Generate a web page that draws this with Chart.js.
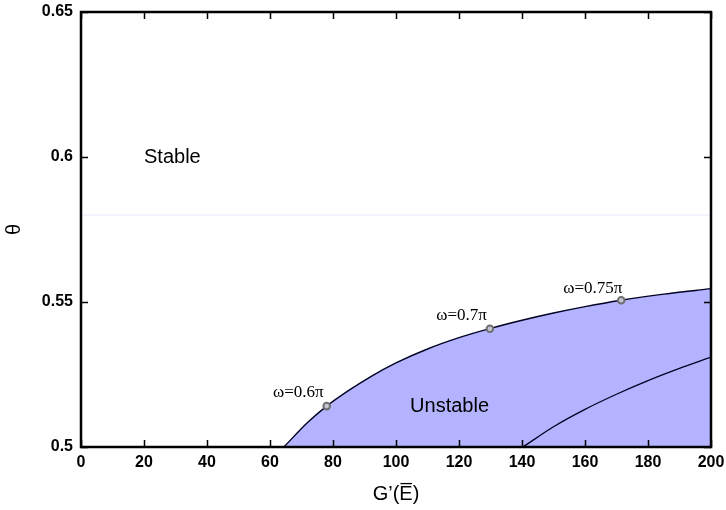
<!DOCTYPE html>
<html>
<head>
<meta charset="utf-8">
<script src="https://cdn.jsdelivr.net/npm/chart.js@4"></script>
<style>
  html, body { margin: 0; padding: 0; background: #fff; }
  #wrap { width: 726px; height: 510px; }
</style>
</head>
<body>
<div id="wrap"><canvas id="stability"></canvas></div>
<script>
// boundary of the unstable region (upper curve, filled below)
const boundaryX = [64.4, 72, 78, 85, 92, 100, 110, 120, 130, 140, 150, 160, 171.5, 185, 200];
const boundaryY = [0.5, 0.5085, 0.5141, 0.5195, 0.5243, 0.529, 0.5338, 0.5377, 0.5409, 0.5437, 0.5462, 0.5484, 0.5506, 0.5527, 0.5546];

// second (lower) curve
const innerX = [140.3, 150, 160, 170, 180, 190, 200];
const innerY = [0.5, 0.507, 0.513, 0.5182, 0.5229, 0.5271, 0.531];

// marked frequencies on the boundary
const markX = [78, 129.8, 171.5];
const markY = [0.5141, 0.5408, 0.5506];
const markLabels = ['ω=0.6π', 'ω=0.7π', 'ω=0.75π'];

// faint reference line
const refY = 0.58;

const xTicks = [0, 20, 40, 60, 80, 100, 120, 140, 160, 180, 200];
const yTicks = [0.5, 0.55, 0.6, 0.65];
const yTickLabels = ['0.5', '0.55', '0.6', '0.65'];

function pts(xs, ys) {
  return xs.map(function(x, i) { return { x: x, y: ys[i] }; });
}

// box, inward ticks and text labels
const decorations = {
  id: 'decorations',
  afterDraw: function(chart) {
    const ctx = chart.ctx;
    const a = chart.chartArea;
    const xs = chart.scales.x, ys = chart.scales.y;
    ctx.save();
    ctx.strokeStyle = '#000';
    ctx.lineWidth = 1.5;
    xTicks.forEach(function(v) {
      const px = Math.round(xs.getPixelForValue(v)) + 0.5;
      ctx.beginPath();
      ctx.moveTo(px, a.bottom); ctx.lineTo(px, a.bottom - 7);
      ctx.moveTo(px, a.top); ctx.lineTo(px, a.top + 7);
      ctx.stroke();
    });
    yTicks.forEach(function(v) {
      const py = Math.round(ys.getPixelForValue(v)) + 0.5;
      ctx.beginPath();
      ctx.moveTo(a.left, py); ctx.lineTo(a.left + 7, py);
      ctx.moveTo(a.right, py); ctx.lineTo(a.right - 7, py);
      ctx.stroke();
    });
    ctx.lineWidth = 2.5;
    ctx.strokeRect(a.left, a.top, a.right - a.left, a.bottom - a.top);

    ctx.fillStyle = '#000';
    ctx.textAlign = 'center';
    ctx.textBaseline = 'middle';
    ctx.font = '20px "Liberation Sans", Arial, sans-serif';
    ctx.fillText('Stable', xs.getPixelForValue(29), ys.getPixelForValue(0.6));
    ctx.fillText('Unstable', xs.getPixelForValue(117), ys.getPixelForValue(0.5141));

    ctx.font = '17px "Liberation Serif", "Times New Roman", serif';
    const offs = [[-9, 0.0048], [-9, 0.0045], [-9, 0.004]];
    markLabels.forEach(function(t, i) {
      ctx.fillText(t, xs.getPixelForValue(markX[i] + offs[i][0]), ys.getPixelForValue(markY[i] + offs[i][1]));
    });
    ctx.restore();
  }
};

const ctx = document.getElementById('stability').getContext('2d');
const chart = new Chart(ctx, {
  type: 'scatter',
  data: {
    datasets: [
      {
        label: 'boundary',
        data: pts(boundaryX, boundaryY),
        order: 10,
        showLine: true,
        fill: 'start',
        backgroundColor: '#b3b3ff',
        borderColor: '#000022',
        borderWidth: 1.4,
        pointRadius: 0,
        cubicInterpolationMode: 'monotone'
      },
      {
        label: 'inner',
        data: pts(innerX, innerY),
        order: 1,
        showLine: true,
        fill: false,
        borderColor: '#000022',
        borderWidth: 1.3,
        pointRadius: 0,
        cubicInterpolationMode: 'monotone'
      },
      {
        label: 'ref',
        data: pts([0, 200], [refY, refY]),
        order: 1,
        showLine: true,
        fill: false,
        borderColor: '#e8e8fd',
        borderWidth: 1,
        pointRadius: 0
      },
      {
        label: 'marks',
        data: pts(markX, markY),
        order: 0,
        showLine: false,
        pointRadius: 3.3,
        pointBorderWidth: 2,
        pointBorderColor: '#6e6e6e',
        pointBackgroundColor: '#c4c4d4'
      }
    ]
  },
  options: {
    responsive: true,
    maintainAspectRatio: false,
    animation: false,
    layout: { padding: { left: 0, top: 12, right: 15, bottom: 0 } },
    plugins: {
      legend: { display: false },
      tooltip: { enabled: false }
    },
    scales: {
      x: {
        type: 'linear',
        min: 0, max: 200,
        afterFit: function(s) {
          s.height = 63;
          s.paddingLeft = 0; s.paddingRight = 0;
        },
        afterBuildTicks: function(s) { s.ticks = xTicks.map(function(v) { return { value: v }; }); },
        grid: { display: false, drawTicks: false },
        border: { display: false },
        ticks: {
          padding: 6,
          color: '#000',
          font: { family: '"Liberation Sans", Arial, sans-serif', size: 16, weight: 'bold' },
          maxRotation: 0
        },
        title: {
          display: true,
          text: 'G’(E̅)',
          color: '#000',
          padding: { top: 0, bottom: 4 },
          font: { family: '"Liberation Sans", Arial, sans-serif', size: 20 }
        }
      },
      y: {
        type: 'linear',
        min: 0.5, max: 0.65,
        afterFit: function(s) {
          s.width = 81;
          s.paddingTop = 0; s.paddingBottom = 0;
        },
        afterBuildTicks: function(s) { s.ticks = yTicks.map(function(v) { return { value: v }; }); },
        grid: { display: false, drawTicks: false },
        border: { display: false },
        ticks: {
          padding: 8,
          color: '#000',
          font: { family: '"Liberation Sans", Arial, sans-serif', size: 16, weight: 'bold' },
          callback: function(v) {
            const i = yTicks.indexOf(v);
            return i >= 0 ? yTickLabels[i] : '';
          }
        },
        title: {
          display: true,
          text: 'θ',
          color: '#000',
          padding: { top: 2, bottom: 0 },
          font: { family: '"Liberation Sans", Arial, sans-serif', size: 20 }
        }
      }
    }
  },
  plugins: [decorations]
});
</script>
</body>
</html>
